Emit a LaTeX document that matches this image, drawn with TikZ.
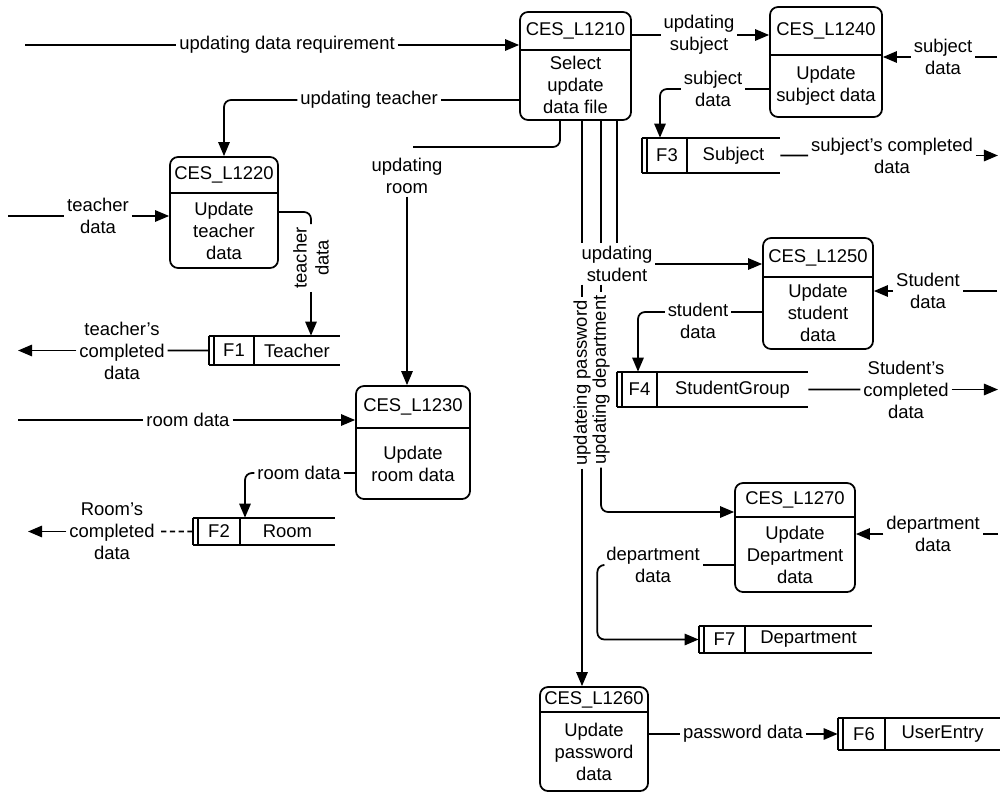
\documentclass[tikz,border=0pt]{standalone}
\usepackage{fontspec}
\setmainfont{Liberation Sans}
\usetikzlibrary{arrows.meta,fit}
\newcommand\procbox[8]{%
  \node[pbox, fit={(#2,#3) (#4,#5)}] (#1) {};
  \draw[ln] (#1.west |- 0,#6) -- (#1.east |- 0,#6);
  \node[ptext] (#1h) at ({(#2+#4)/2},{(#3+#6)/2}) {#7};
  \node[ptext] (#1b) at ({(#2+#4)/2},{(#6+#5)/2}) {#8};
}
\newcommand\dstore[8]{%
  \node[fit={(#2,#3) (#4,#5)}, inner sep=0pt] (#1) {};
  \draw[ln] (#1.north west) -- (#1.north east)
            (#1.south west) -- (#1.south east)
            (#1.north west) -- (#1.south west)
            ([xshift=0.1cm]#1.north west) -- ([xshift=0.1cm]#1.south west)
            (#1.north west -| #6,0) -- (#1.south west -| #6,0);
  \node[ptext] (#1i) at ({(#2+5+#6)/2},{(#3+#5)/2}) {#7};
  \node[ptext] (#1l) at ({(#6+#4)/2},{(#3+#5)/2}) {#8};
}
\begin{document}
\begin{tikzpicture}[x=0.02cm,y=-0.02cm,
  ln/.style={line width=1pt},
  flow/.style={ln, -{Triangle[length=8pt,width=6.5pt]}},
  rnd/.style={rounded corners=0.14cm},
  pbox/.style={draw, line width=1pt, rounded corners=0.16cm, inner sep=0pt},
  ptext/.style={font=\fontsize{10.5}{12.5}\selectfont, align=center, inner sep=0pt},
  lbl/.style={font=\fontsize{10.5}{12.5}\selectfont, align=center, inner sep=1.5pt},
]
\useasboundingbox (0,0) rectangle (1000,794);

% processes
\procbox{p1210}{520}{12}{631}{120}{50}{CES\_L1210}{Select\\update\\data file}
\procbox{p1240}{770}{7}{882}{117}{55}{CES\_L1240}{Update\\subject data}
\procbox{p1220}{170}{157}{278}{268}{193}{CES\_L1220}{Update\\teacher\\data}
\procbox{p1230}{356}{386}{470}{499}{428}{CES\_L1230}{Update\\room data}
\procbox{p1250}{763}{238}{873}{349}{277}{CES\_L1250}{Update\\student\\data}
\procbox{p1270}{735}{483}{855}{592}{517}{CES\_L1270}{Update\\Department\\data}
\procbox{p1260}{540}{687}{648}{791}{712}{CES\_L1260}{Update\\password\\data}

% data stores
\dstore{f1}{209}{336}{340}{365}{254}{F1}{Teacher}
\dstore{f2}{193}{518}{335}{545}{240}{F2}{Room}
\dstore{f3}{642}{138}{780}{173}{687}{F3}{Subject}
\dstore{f4}{617}{372}{808}{407}{657}{F4}{StudentGroup}
\dstore{f7}{699}{626}{872}{653}{745}{F7}{Department}
\dstore{f6}{838}{718}{1000}{750}{885}{F6}{UserEntry}

% updating data requirement
\coordinate (udrS) at (25,45);
\node[lbl] (L1) at (287,45) {updating data requirement};
\draw[ln] (udrS) -- (L1.west);
\draw[flow] (L1.east) -- (p1210.west |- L1.east);

% updating teacher
\node[lbl] (L2) at (369,100) {updating teacher};
\draw[ln] (p1210.west |- L2.east) -- (L2.east);
\draw[flow,rnd] (L2.west) -| (p1220.north);

% updating room
\coordinate (ur1) at (413,147);
\draw[ln,rnd] (p1210.south -| 560,0) |- (ur1);
\node[lbl] (L3) at (407,176) {updating\\room};
\draw[flow] (L3.south) -- (L3.south |- p1230.north);

% teacher data in
\coordinate (tdS) at (8,216);
\node[lbl] (L4) at (98,216) {teacher\\data};
\draw[ln] (tdS) -- (L4.west);
\draw[flow] (L4.east) -- (p1220.west |- L4.east);

% teacher data out
\node[lbl,rotate=90] (L5) at (311,258) {teacher\\data};
\draw[ln,rnd] (p1220.east |- 0,212) -| (L5.east);
\draw[flow] (L5.west) -- (L5.west |- f1.north);

% teacher's completed data
\coordinate (tcE) at (18,350.5);
\node[lbl] (L6) at (122,350.5) {teacher's\\completed\\data};
\draw[ln] (f1.west) -- (L6.east);
\draw[flow] (L6.west) -- (tcE);

% room data in
\coordinate (rdS) at (18,420);
\node[lbl] (L7) at (188,420) {room data};
\draw[ln] (rdS) -- (L7.west);
\draw[flow] (L7.east) -- (p1230.west |- L7.east);

% room data out
\node[lbl] (L8) at (299,473) {room data};
\draw[ln] (p1230.west |- L8.east) -- (L8.east);
\draw[flow,rnd] (L8.west) -| (f2.north -| 245,0);

% Room's completed data
\coordinate (rcE) at (28,531.5);
\node[lbl] (L9) at (112,531.5) {Room's\\completed\\data};
\draw[ln,dash pattern=on 3pt off 2pt] (f2.west) -- (L9.east);
\draw[flow] (L9.west) -- (rcE);

% updating subject
\node[lbl] (L10) at (699,35) {updating\\subject};
\draw[ln] (p1210.east |- L10.west) -- (L10.west);
\draw[flow] (L10.east) -- (p1240.west |- L10.east);

% subject data in
\coordinate (sdS) at (997,57);
\node[lbl] (L11) at (943,57) {subject\\data};
\draw[ln] (sdS) -- (L11.east);
\draw[flow] (L11.west) -- (p1240.east |- L11.west);

% subject data out
\node[lbl] (L12) at (713,89) {subject\\data};
\draw[ln] (p1240.west |- L12.east) -- (L12.east);
\draw[flow,rnd] (L12.west) -| (f3.north -| 660,0);

% subject's completed data
\coordinate (scE) at (998,155.5);
\node[lbl] (L13) at (892,155.5) {subject's completed\\data};
\draw[ln] (f3.east) -- (L13.west);
\draw[flow] (L13.east) -- (scE);

% updating student
\node[lbl] (L14) at (617,264) {updating\\student};
\draw[flow] (L14.east) -- (p1250.west |- L14.east);
\draw[ln] (p1210.south -| 582,0) -- (L14.north -| 582,0);
\draw[ln] (p1210.south -| 601,0) -- (L14.north -| 601,0);
\draw[ln] (p1210.south -| 617,0) -- (L14.north -| 617,0);

% updating password
\node[lbl,rotate=90] (L15) at (582,383) {updateing password};
\draw[ln] (L14.south -| L15.east) -- (L15.east);
\draw[flow] (L15.west) -- (L15.west |- p1260.north);

% updating department
\node[lbl,rotate=90] (L16) at (601,380) {updating department};
\draw[ln] (L14.south -| L16.east) -- (L16.east);
\draw[flow,rnd] (L16.west) |- (p1270.west |- 0,512);

% Student data in
\coordinate (stdS) at (997,291);
\node[lbl] (L17) at (928,291) {Student\\data};
\draw[ln] (stdS) -- (L17.east);
\draw[flow] (L17.west) -- (p1250.east |- L17.west);

% student data out
\node[lbl] (L18) at (698,321) {student\\data};
\draw[ln] (p1250.west |- 0,312) -- (L18.east |- 0,312);
\draw[flow,rnd] (L18.west |- 0,312) -| (f4.north -| 638,0);

% Student's completed data
\coordinate (sgE) at (998,389.5);
\node[lbl] (L19) at (906,389.5) {Student's\\completed\\data};
\draw[ln] (f4.east) -- (L19.west);
\draw[flow] (L19.east) -- (sgE);

% department data in
\coordinate (ddS) at (998,534);
\node[lbl] (L20) at (933,534) {department\\data};
\draw[ln] (ddS) -- (L20.east);
\draw[flow] (L20.west) -- (p1270.east |- L20.west);

% department data out
\node[lbl] (L21) at (653,565) {department\\data};
\draw[ln] (p1270.west |- L21.east) -- (L21.east);
\draw[flow,rnd] (L21.west) -- ++(-6,0) |- (f7.west);

% password data
\node[lbl] (L22) at (743,734) {password data};
\draw[ln] (p1260.east |- L22.west) -- (L22.west);
\draw[flow] (L22.east) -- (f6.west);
\end{tikzpicture}
\end{document}
